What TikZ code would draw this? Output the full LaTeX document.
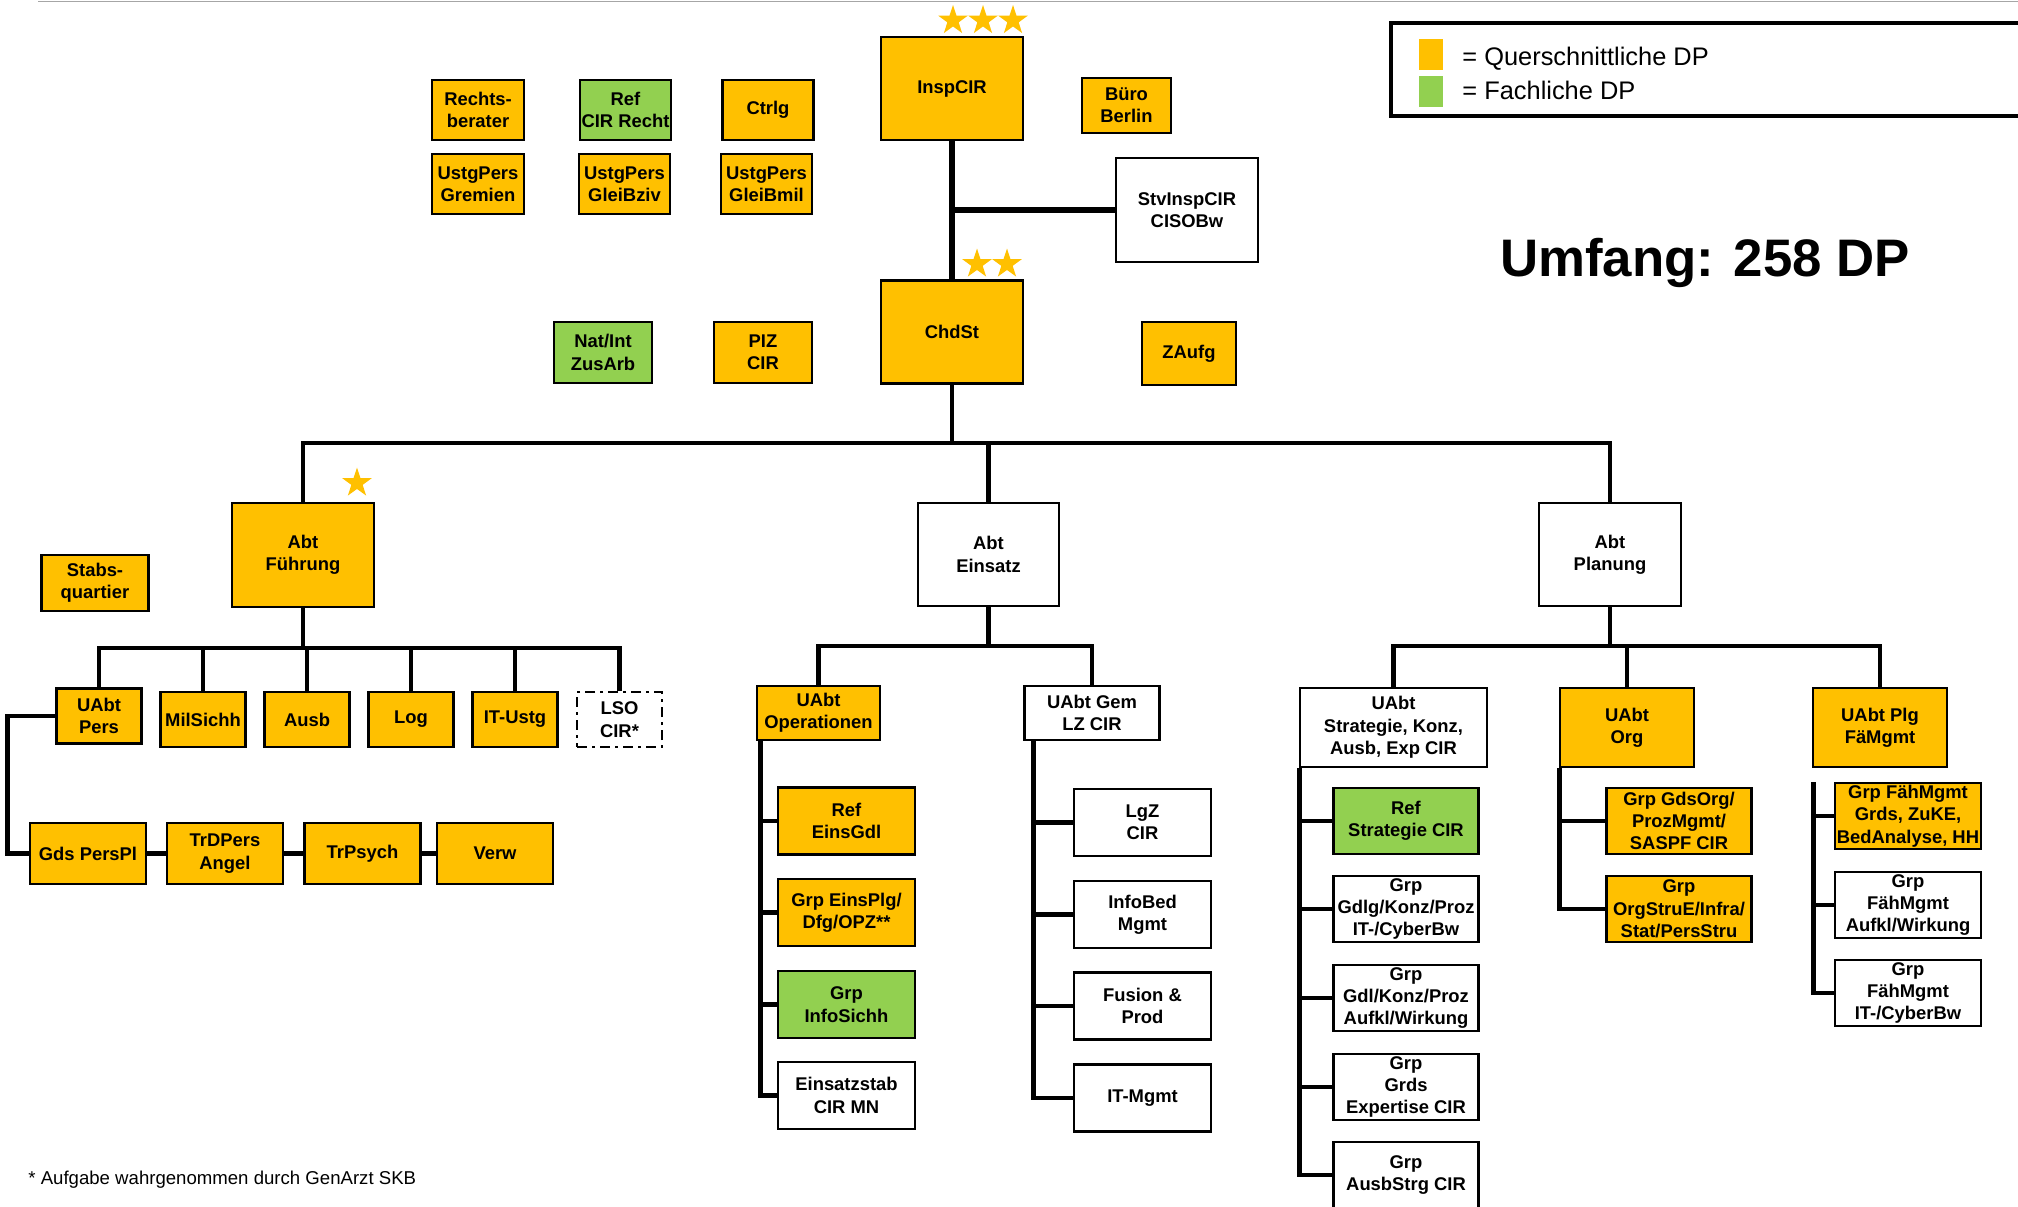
\documentclass[tikz,border=0pt]{standalone}
\usepackage{fontspec}
\setmainfont{Liberation Sans}
\usetikzlibrary{shapes.geometric, calc}

\definecolor{querGelb}{HTML}{FFC000}
\definecolor{fachGruen}{HTML}{92D050}

\tikzset{
    box/.style={draw, line width=1.3pt, inner sep=0pt, align=center,
        font=\fontsize{9.2}{11.2}\selectfont\bfseries},
    quer/.style={box, fill=querGelb},
    fach/.style={box, fill=fachGruen},
    leer/.style={box, fill=white},
    lso/.style={box, fill=white, dash pattern=on 5pt off 2.5pt on 1.5pt off 2.5pt},
    sz/.style 2 args={minimum width=0.5pt*#1, minimum height=0.5pt*#2},
    conn/.style={line width=2.4pt},
    stern/.style={star, star points=5, star point ratio=2.6, fill=querGelb,
        inner sep=0pt, minimum size=15.5pt},
}

\begin{document}
\begin{tikzpicture}[x=0.5pt, y=-0.5pt]
    \useasboundingbox (0,0) rectangle (2018,1206);
    \draw[gray!70, line width=0.8pt] (38,1.5) -- (2018,1.5);

    % Leitung
    \node[quer, sz={142}{103}] (inspCir) at (952,88.5) {InspCIR};
    \node[quer, sz={142}{103}] (chdSt) at (952,332) {ChdSt};
    \node[leer, sz={142}{104}] (stvInsp) at (1187,210) {StvInspCIR\\CISOBw};
    \node[quer, sz={89}{55}] (bueroBerlin) at (1126.5,105.5) {Büro\\Berlin};
    \node[quer, sz={94}{63}] (zAufg) at (1189,353.5) {ZAufg};
    \node[quer, sz={92}{60}] (rechtsBer) at (478,110) {Rechts-\\berater};
    \node[fach, sz={91}{60}] (refRecht) at (625.5,110) {Ref\\CIR Recht};
    \node[quer, sz={91}{60}] (ctrlg) at (768,110) {Ctrlg};
    \node[quer, sz={92}{60}] (ustgGremien) at (478,184) {UstgPers\\Gremien};
    \node[quer, sz={91}{60}] (ustgBziv) at (624.5,184) {UstgPers\\GleiBziv};
    \node[quer, sz={91}{60}] (ustgBmil) at (766.5,184) {UstgPers\\GleiBmil};
    \node[fach, sz={98}{61}] (natInt) at (603,352.5) {Nat/Int\\ZusArb};
    \node[quer, sz={98}{61}] (pizCir) at (763,352.5) {PIZ\\CIR};

    \foreach \x [count=\i] in {953,983,1013} \node[stern] (sternInsp\i) at (\x,20.5) {};
    \foreach \x [count=\i] in {977,1007} \node[stern] (sternChd\i) at (\x,264) {};
    \node[stern] (sternFue) at (357,483) {};

    % Abteilungen
    \node[quer, sz={142}{104}] (abtFue) at (303,555) {Abt\\Führung};
    \node[leer, sz={141}{103}] (abtEins) at (988.5,554.5) {Abt\\Einsatz};
    \node[leer, sz={142}{103}] (abtPlg) at (1610,554.5) {Abt\\Planung};
    \node[quer, sz={107}{56}] (stabsQu) at (95,583) {Stabs-\\quartier};

    % Abt Fuehrung
    \node[quer, sz={85}{55}] (uabtPers) at (99,716) {UAbt\\Pers};
    \foreach \n/\x/\t in {milSichh/203/MilSichh, ausb/307/Ausb, log/411/Log, itUstg/515/IT-Ustg}
        \node[quer, sz={85}{55}] (\n) at (\x,719.5) {\t};
    \node[lso, sz={85}{55}] (lsoCir) at (619.5,719.5) {LSO\\CIR*};
    \node[quer, sz={116}{61}] (gdsPersPl) at (88,853.5) {Gds PersPl};
    \node[quer, sz={116}{61}] (trdPers) at (225,853.5) {TrDPers\\Angel};
    \node[quer, sz={116}{61}] (trPsych) at (362.5,853.5) {TrPsych};
    \node[quer, sz={116}{61}] (verw) at (495,853.5) {Verw};

    % Abt Einsatz
    \node[quer, sz={123}{54}] (uabtOps) at (818.5,713) {UAbt\\Operationen};
    \node[leer, sz={135}{54}] (uabtGem) at (1092,713) {UAbt Gem\\LZ CIR};
    \node[quer, sz={137}{67}] (refEinsGdl) at (846.5,821) {Ref\\EinsGdl};
    \node[quer, sz={137}{67}] (grpEinsPlg) at (846.5,912.5) {Grp EinsPlg/\\Dfg/OPZ**};
    \node[fach, sz={137}{67}] (grpInfoSichh) at (846.5,1004.5) {Grp\\InfoSichh};
    \node[leer, sz={137}{67}] (einsStab) at (846.5,1095.5) {Einsatzstab\\CIR MN};
    \node[leer, sz={137}{67}] (lgzCir) at (1142.5,822.5) {LgZ\\CIR};
    \node[leer, sz={137}{67}] (infoBed) at (1142.5,914.5) {InfoBed\\Mgmt};
    \node[leer, sz={137}{67}] (fusionProd) at (1142.5,1006) {Fusion \&\\Prod};
    \node[leer, sz={137}{67}] (itMgmt) at (1142.5,1098) {IT-Mgmt};

    % Abt Planung
    \node[leer, sz={187}{79}] (uabtStrat) at (1393.5,727.5) {UAbt\\Strategie, Konz,\\Ausb, Exp CIR};
    \node[quer, sz={134}{79}] (uabtOrg) at (1627,727.5) {UAbt\\Org};
    \node[quer, sz={134}{79}] (uabtPlg) at (1880,727.5) {UAbt Plg\\FäMgmt};
    \node[fach, sz={145}{66}] (refStrat) at (1406,821) {Ref\\Strategie CIR};
    \node[leer, sz={145}{66}] (grpGdlg) at (1406,909) {Grp\\Gdlg/Konz/Proz\\IT-/CyberBw};
    \node[leer, sz={145}{66}] (grpGdl) at (1406,998) {Grp\\Gdl/Konz/Proz\\Aufkl/Wirkung};
    \node[leer, sz={145}{66}] (grpGrds) at (1406,1087) {Grp\\Grds\\Expertise CIR};
    \node[leer, sz={145}{66}] (grpAusb) at (1406,1175) {Grp\\AusbStrg CIR};
    \node[quer, sz={145}{66}] (grpGdsOrg) at (1679,821) {Grp GdsOrg/\\ProzMgmt/\\SASPF CIR};
    \node[quer, sz={145}{66}] (grpOrgStru) at (1679,909) {Grp\\OrgStruE/Infra/\\Stat/PersStru};
    \node[quer, sz={146}{66}] (grpFaeGrds) at (1908,816) {Grp FähMgmt\\Grds, ZuKE,\\BedAnalyse, HH};
    \node[leer, sz={146}{66}] (grpFaeAufkl) at (1908,905) {Grp\\FähMgmt\\Aufkl/Wirkung};
    \node[leer, sz={146}{66}] (grpFaeCyber) at (1908,993) {Grp\\FähMgmt\\IT-/CyberBw};

    % Legende
    \draw[line width=1.8pt] (1391,23) rectangle (2030,116);
    \node[fill=querGelb, inner sep=0pt, sz={24}{31}] (legQuer) at (1431,54.5) {};
    \node[fill=fachGruen, inner sep=0pt, sz={24}{31}] (legFach) at (1431,91.5) {};
    \node[anchor=base west, inner sep=0pt, font=\fontsize{12.7}{14}\selectfont] (legQuerTxt) at (1462,65) {= Querschnittliche DP};
    \node[anchor=base west, inner sep=0pt, font=\fontsize{12.7}{14}\selectfont] (legFachTxt) at (1462,99) {= Fachliche DP};
    \node[anchor=base, inner sep=0pt, font=\fontsize{26.4}{30}\selectfont\bfseries] (umfang) at (1705,276) {Umfang: 258 DP};
    \node[anchor=base west, inner sep=0pt, font=\fontsize{9.3}{11}\selectfont] (fussnote) at (28,1184) {* Aufgabe wahrgenommen durch GenArzt SKB};

    % Linien
    \draw[line width=3pt] (inspCir.south) -- (chdSt.north);
    \draw[line width=3pt] (stvInsp.west) -- (stvInsp.west -| inspCir.south);
    \coordinate (abtBus) at (952,443);
    \draw[conn] (chdSt.south) -- (abtBus);
    \draw[conn] (abtFue.north) |- (abtBus) -| (abtPlg.north);
    \draw[conn] (abtEins.north) -- (abtEins.north |- abtBus);

    \coordinate (fueBus) at (303,648);
    \draw[conn] (abtFue.south) -- (fueBus);
    \draw[conn] (uabtPers.north) |- (fueBus) -| (lsoCir.north);
    \foreach \n in {milSichh, ausb, log, itUstg} \draw[conn] (\n.north) -- (\n.north |- fueBus);
    \draw[conn] (uabtPers.west) -- ++(-48,0) |- (gdsPersPl.west);
    \draw[conn] (gdsPersPl.east) -- (trdPers.west);
    \draw[conn] (trdPers.east) -- (trPsych.west);
    \draw[conn] (trPsych.east) -- (verw.west);

    \coordinate (einsBus) at (988.5,646);
    \draw[conn] (abtEins.south) -- (einsBus);
    \draw[conn] (uabtOps.north) |- (einsBus) -| (uabtGem.north);
    \foreach \n in {refEinsGdl, grpEinsPlg, grpInfoSichh, einsStab} \draw[conn] (\n.west) -| ([xshift=2.5pt]uabtOps.south west);
    \foreach \n in {lgzCir, infoBed, fusionProd, itMgmt} \draw[conn] (\n.west) -| ([xshift=5.25pt]uabtGem.south west);

    \coordinate (plgBus) at (1610,646);
    \draw[conn] (abtPlg.south) -- (plgBus);
    \draw[conn] (uabtStrat.north) |- (plgBus) -| (uabtPlg.north);
    \draw[conn] (uabtOrg.north) -- (uabtOrg.north |- plgBus);
    \foreach \n in {refStrat, grpGdlg, grpGdl, grpGrds, grpAusb} \draw[conn] (\n.west) -| ([xshift=0.5pt]uabtStrat.south west);
    \foreach \n in {grpGdsOrg, grpOrgStru} \draw[conn] (\n.west) -| ([xshift=0.25pt]uabtOrg.south west);
    \foreach \n in {grpFaeGrds, grpFaeAufkl, grpFaeCyber} \draw[conn] (\n.west) -| ([shift={(1pt,-7pt)}]uabtPlg.south west);
\end{tikzpicture}
\end{document}
